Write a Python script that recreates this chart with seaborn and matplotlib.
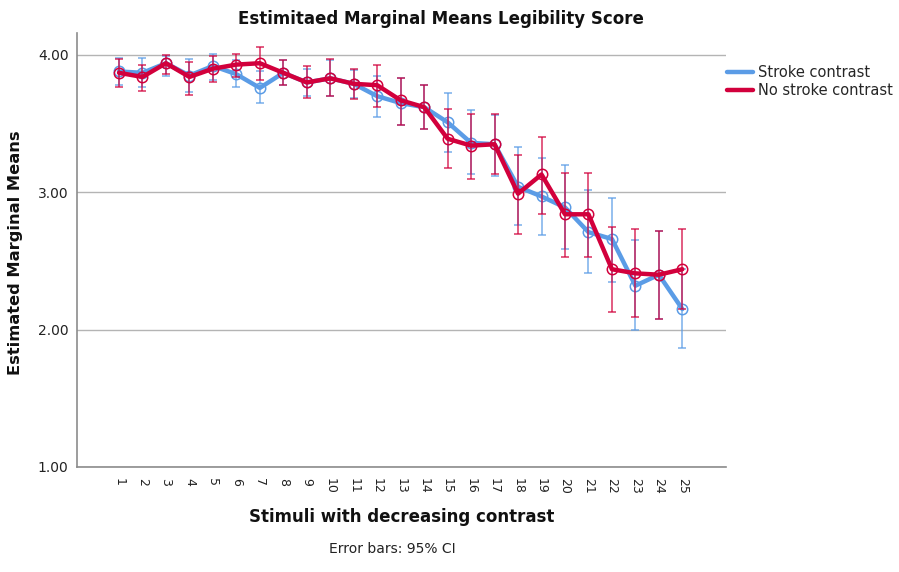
import numpy as np
import pandas as pd
import matplotlib
matplotlib.use("Agg")
import matplotlib.pyplot as plt
from matplotlib.lines import Line2D
import seaborn as sns

# ---- data ----
stimuli = list(range(1, 26))
series_names = ["Stroke contrast", "No stroke contrast"]

stroke_mean = [3.88, 3.87, 3.94, 3.85, 3.92, 3.86, 3.76, 3.87, 3.80, 3.83,
               3.79, 3.70, 3.65, 3.62, 3.51, 3.36, 3.35, 3.04, 2.97, 2.89,
               2.71, 2.66, 2.32, 2.40, 2.15]
stroke_lo = [3.78, 3.77, 3.85, 3.73, 3.82, 3.77, 3.65, 3.78, 3.70, 3.70,
             3.69, 3.55, 3.49, 3.46, 3.29, 3.13, 3.12, 2.76, 2.69, 2.59,
             2.41, 2.35, 2.00, 2.08, 1.87]
stroke_hi = [3.98, 3.98, 3.99, 3.97, 4.01, 3.96, 3.88, 3.96, 3.90, 3.96,
             3.89, 3.85, 3.83, 3.78, 3.72, 3.60, 3.56, 3.33, 3.25, 3.20,
             3.02, 2.96, 2.65, 2.72, 2.44]

nostroke_mean = [3.87, 3.84, 3.94, 3.84, 3.90, 3.93, 3.94, 3.87, 3.80, 3.83,
                 3.79, 3.78, 3.67, 3.62, 3.39, 3.34, 3.35, 2.99, 3.13, 2.84,
                 2.84, 2.44, 2.41, 2.40, 2.44]
nostroke_lo = [3.77, 3.74, 3.86, 3.71, 3.80, 3.84, 3.82, 3.78, 3.69, 3.70,
               3.68, 3.62, 3.49, 3.46, 3.18, 3.10, 3.13, 2.70, 2.84, 2.53,
               2.53, 2.13, 2.09, 2.08, 2.15]
nostroke_hi = [3.97, 3.93, 4.00, 3.95, 3.99, 4.01, 4.06, 3.96, 3.92, 3.97,
               3.90, 3.93, 3.83, 3.78, 3.61, 3.57, 3.57, 3.27, 3.40, 3.14,
               3.14, 2.75, 2.73, 2.72, 2.73]

y_ticks = [1.00, 2.00, 3.00, 4.00]

colors = {"Stroke contrast": "#5b9ce6", "No stroke contrast": "#d2003c"}

df = pd.concat([
    pd.DataFrame({"stim": stimuli, "cond": series_names[0], "mean": stroke_mean,
                  "lo": stroke_lo, "hi": stroke_hi}),
    pd.DataFrame({"stim": stimuli, "cond": series_names[1], "mean": nostroke_mean,
                  "lo": nostroke_lo, "hi": nostroke_hi}),
], ignore_index=True)

sns.set_theme(style="white")
plt.rcParams["font.family"] = ["DejaVu Sans"]

fig = plt.figure(figsize=(8.99, 5.72), dpi=100)
ax = fig.add_axes([77 / 899, 1 - 467 / 572, (726 - 77) / 899, (467 - 33) / 572])

# grid
for yt in y_ticks:
    ax.axhline(yt, color="#b4b4b4", lw=1.0, zorder=0)

for cond in series_names:
    sub = df[df["cond"] == cond]
    c = colors[cond]
    ax.errorbar(sub["stim"], sub["mean"],
                yerr=[sub["mean"] - sub["lo"], sub["hi"] - sub["mean"]],
                fmt="none", ecolor=c, elinewidth=1.2, capsize=3, capthick=1.2,
                alpha=0.75, zorder=2 if cond == series_names[0] else 4)

for i, cond in enumerate(series_names):
    c = colors[cond]
    sns.lineplot(data=df[df["cond"] == cond], x="stim", y="mean",
                 color=c, lw=3.2, marker="o", markersize=7.5,
                 markerfacecolor="none", markeredgecolor=c,
                 markeredgewidth=1.1, errorbar=None, ax=ax,
                 zorder=3 + 2 * i, legend=False)

ax.set_xlim(-0.79, 26.86)
ax.set_ylim(1.0, 4.16)
ax.set_xticks(stimuli)
ax.set_xticklabels([str(s) for s in stimuli], rotation=-90, fontsize=9, color="#222222")
ax.set_yticks(y_ticks)
ax.set_yticklabels([f"{v:.2f}" for v in y_ticks], fontsize=10, color="#222222")
ax.tick_params(axis="both", length=0, pad=6)
ax.tick_params(axis="x", pad=8)

for s in ["top", "right"]:
    ax.spines[s].set_visible(False)
for s in ["left", "bottom"]:
    ax.spines[s].set_color("#8c8c8c")
    ax.spines[s].set_linewidth(1.2)

ax.set_xlabel("")
ax.set_ylabel("")
fig.text(401.5 / 899, 1 - 517 / 572, "Stimuli with decreasing contrast",
         ha="center", va="center", fontsize=12, fontweight="bold", color="#111111")
fig.text(16 / 899, 1 - 253 / 572, "Estimated Marginal Means", rotation=90,
         ha="center", va="center", fontsize=11.7, fontweight="bold", color="#111111")
fig.text(441 / 899, 1 - 19 / 572, "Estimitaed Marginal Means Legibility Score",
         ha="center", va="center", fontsize=12, fontweight="bold", color="#111111")
fig.text(392 / 899, 1 - 549 / 572, "Error bars: 95% CI",
         ha="center", va="center", fontsize=10, color="#222222")

handles = [Line2D([0], [0], color=colors[n], lw=3.2) for n in series_names]
fig.legend(handles, series_names, loc="upper left",
           bbox_to_anchor=(727 / 899, 1 - 65 / 572), frameon=False,
           fontsize=10.5, handlelength=1.75, handletextpad=0.35,
           labelspacing=0.2, borderpad=0, borderaxespad=0)

fig.savefig("out.png", dpi=100)
